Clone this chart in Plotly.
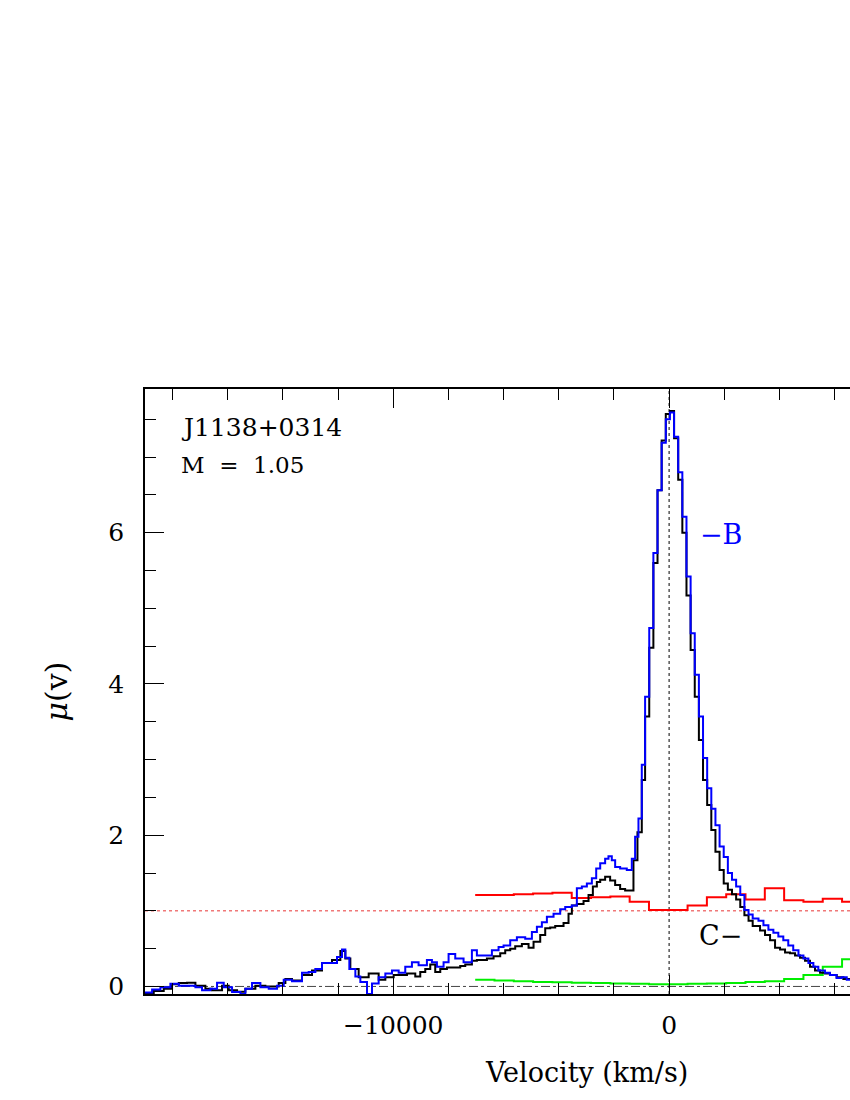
import plotly.graph_objects as go

# ---------------- data ----------------
black_edges = [-19000, -18683, -18321, -18019, -17777, -17475, -17173, -16811, -16569, -16207,
               -15965, -15663, -15361, -14999, -14636, -14153, -13911, -13670, -13308, -12945,
               -12583, -12220, -11918, -11737, -11556, -11254, -10891, -10529, -10287, -9985,
               -9504, -9202, -9021, -8840, -8659, -8478, -8296, -8055, -7572, -7390,
               -7149, -6968, -6605, -6364, -6122, -5941, -5760, -5579, -5337, -5095,
               -4914, -4672, -4491, -4310, -4129, -3827, -3646, -3525, -3344, -3102,
               -2921, -2764, -2619, -2498, -2319, -2138, -1956, -1775, -1594, -1292,
               -1147, -990, -870, -720, -570, -420, -270, -120, 30, 180,
               330, 480, 630, 780, 930, 1080, 1230, 1380, 1530, 1680,
               1830, 1980, 2130, 2280, 2430, 2580, 2730, 2880, 3030, 3297,
               3478, 3660, 3841, 4022, 4203, 4384, 4566, 4747, 4928, 5109,
               5290, 5472, 5653, 5834, 6076, 6317, 6600]
black_vals = [-0.09, -0.06, -0.03, 0.03, 0.045, 0.05, 0.01, -0.03, -0.05, 0.01,
              -0.05, -0.07, -0.03, 0.01, 0.0, 0.045, 0.10, 0.08, 0.15, 0.21,
              0.31, 0.35, 0.47, 0.37, 0.23, 0.12, 0.17, 0.09, 0.12, 0.15,
              0.17, 0.13, 0.19, 0.23, 0.29, 0.19, 0.23, 0.25, 0.27, 0.29,
              0.34, 0.35, 0.37, 0.40, 0.44, 0.48, 0.50, 0.53, 0.56, 0.51,
              0.59, 0.68, 0.77, 0.78, 0.80, 0.84, 0.96, 1.07, 1.09, 1.13,
              1.21, 1.32, 1.38, 1.41, 1.45, 1.40, 1.34, 1.29, 1.27, 1.67,
              2.04, 2.73, 3.57, 4.48, 5.60, 6.56, 7.22, 7.57, 7.61, 7.25,
              6.70, 6.00, 5.17, 4.45, 3.83, 3.26, 2.73, 2.40, 2.07, 1.78,
              1.54, 1.36, 1.28, 1.22, 1.15, 1.05, 0.94, 0.87, 0.80, 0.74,
              0.68, 0.61, 0.51, 0.49, 0.45, 0.44, 0.41, 0.38, 0.34, 0.26,
              0.21, 0.18, 0.17, 0.15, 0.12, 0.10]

blue_edges = [-19000, -18743, -18441, -18079, -17777, -17173, -16932, -16629, -16388, -16146,
              -15844, -15542, -15361, -15119, -14817, -14515, -14213, -13971, -13670, -13308,
              -13066, -12825, -12583, -12039, -11858, -11737, -11592, -11374, -11193, -10952,
              -10770, -10529, -10287, -10046, -9804, -9565, -9323, -9082, -8780, -8598,
              -8417, -8176, -7994, -7753, -7451, -7149, -6968, -6424, -6182, -6001,
              -5760, -5518, -5216, -4974, -4793, -4612, -4431, -4189, -3948, -3766,
              -3525, -3344, -3163, -2981, -2800, -2643, -2498, -2319, -2198, -2077,
              -1956, -1775, -1534, -1352, -1232, -1111, -990, -870, -720, -570,
              -420, -270, -120, 30, 180, 330, 480, 630, 780, 930,
              1080, 1230, 1380, 1530, 1680, 1830, 1980, 2130, 2280, 2430,
              2580, 2730, 2880, 3030, 3240, 3420, 3600, 3780, 3960, 4140,
              4320, 4500, 4690, 4870, 5050, 5230, 5410, 5650, 5830, 6070,
              6250, 6440, 6600]
blue_vals = [-0.08, -0.04, -0.01, 0.035, 0.01, -0.01, -0.05, -0.03, 0.05, -0.01,
             -0.075, -0.10, -0.03, 0.045, -0.01, -0.03, 0.01, 0.09, 0.07, 0.18,
             0.19, 0.23, 0.31, 0.39, 0.49, 0.38, 0.23, 0.13, 0.06, -0.10,
             0.04, 0.12, 0.17, 0.21, 0.18, 0.26, 0.32, 0.28, 0.35, 0.32,
             0.26, 0.32, 0.43, 0.37, 0.32, 0.48, 0.41, 0.48, 0.52, 0.54,
             0.61, 0.65, 0.63, 0.72, 0.79, 0.85, 0.92, 0.96, 1.02, 1.05,
             1.07, 1.30, 1.32, 1.36, 1.43, 1.56, 1.63, 1.69, 1.72, 1.67,
             1.58, 1.56, 1.54, 1.69, 1.98, 2.22, 2.93, 3.83, 4.74, 5.73,
             6.56, 7.19, 7.50, 7.59, 7.27, 6.80, 6.21, 5.42, 4.67, 4.12,
             3.57, 3.02, 2.62, 2.35, 2.13, 1.85, 1.71, 1.50, 1.41, 1.32,
             1.21, 1.01, 0.95, 0.90, 0.87, 0.81, 0.75, 0.71, 0.66, 0.61,
             0.54, 0.48, 0.41, 0.37, 0.31, 0.26, 0.21, 0.18, 0.15, 0.11,
             0.12, 0.09]

coarse_edges = [-7030, -6330, -5630, -4930, -4230, -3530, -2830, -2130, -1430, -730,
                -30, 670, 1370, 2070, 2770, 3470, 4170, 4870, 5570, 6270, 6970]
red_vals = [1.21, 1.21, 1.22, 1.23, 1.24, 1.17, 1.18, 1.19, 1.12, 1.01,
            1.01, 1.07, 1.18, 1.22, 1.15, 1.30, 1.14, 1.12, 1.16, 1.12]
green_vals = [0.09, 0.08, 0.07, 0.06, 0.055, 0.05, 0.045, 0.04, 0.035, 0.03,
              0.03, 0.035, 0.04, 0.045, 0.06, 0.07, 0.10, 0.15, 0.26, 0.36]

x_range = [-19000, 6558]
y_range = [-0.1, 7.9]
x_tick_vals = [-10000, 0]
y_tick_vals = [0, 2, 4, 6]

FONT = "DejaVu Serif"


def step(edges, vals):
    return list(edges), list(vals) + [vals[-1]]


fig = go.Figure()

# reference lines
fig.add_shape(type="line", xref="paper", x0=0, x1=1, yref="y", y0=1, y1=1,
              line=dict(color="#f07878", width=1.5, dash="dot"), layer="below")
fig.add_shape(type="line", xref="paper", x0=0, x1=1, yref="y", y0=0, y1=0,
              line=dict(color="#444444", width=1, dash="dashdot"), layer="below")
fig.add_shape(type="line", xref="x", x0=0, x1=0, yref="paper", y0=0, y1=1,
              line=dict(color="#000000", width=1, dash="dot"), layer="below")

for edges, vals, col in [(coarse_edges, green_vals, "#00ee00"),
                         (coarse_edges, red_vals, "#ff0000"),
                         (black_edges, black_vals, "#000000"),
                         (blue_edges, blue_vals, "#0000ff")]:
    xs, ys = step(edges, vals)
    fig.add_trace(go.Scatter(x=xs, y=ys, mode="lines", line_shape="hv",
                             line=dict(color=col, width=2), showlegend=False,
                             hoverinfo="skip"))

fig.update_xaxes(range=x_range, tickvals=x_tick_vals, ticktext=["\u221210000", "0"],
                 ticks="inside", ticklen=19, tickwidth=1.3, tickcolor="black",
                 minor=dict(dtick=2000, tick0=0, ticks="inside", ticklen=11,
                            tickwidth=1.3, tickcolor="black"),
                 showline=True, linecolor="black", linewidth=1.5, mirror="ticks",
                 showgrid=False, zeroline=False, ticklabelstandoff=8,
                 tickfont=dict(family=FONT, size=25, color="black"))
fig.update_yaxes(range=y_range, tickvals=y_tick_vals,
                 ticks="inside", ticklen=19, tickwidth=1.3, tickcolor="black",
                 minor=dict(dtick=0.5, tick0=0, ticks="inside", ticklen=11,
                            tickwidth=1.3, tickcolor="black"),
                 showline=True, linecolor="black", linewidth=1.5, mirror=False,
                 showgrid=False, zeroline=False, ticklabelstandoff=14,
                 tickfont=dict(family=FONT, size=25, color="black"))

fig.add_annotation(x=-17750, y=7.39, text="J1138+0314", showarrow=False,
                   xanchor="left", yanchor="middle", font=dict(family=FONT, size=25, color="black"))
fig.add_annotation(x=-17750, y=6.9, text="M\u00a0\u00a0=\u00a0\u00a01.05", showarrow=False,
                   xanchor="left", yanchor="middle", font=dict(family=FONT, size=23, color="black"))
fig.add_annotation(x=1050, y=5.97, text="\u2212B", showarrow=False,
                   xanchor="left", yanchor="middle", font=dict(family=FONT, size=27, color="#0000ff"))
fig.add_annotation(x=1000, y=0.68, text="C\u2212", showarrow=False,
                   xanchor="left", yanchor="middle", font=dict(family=FONT, size=27, color="black"))
# axis titles
fig.add_annotation(x=-3000, xref="x", y=-0.129, yref="paper", text="Velocity (km/s)",
                   showarrow=False, xanchor="center", yanchor="middle",
                   font=dict(family=FONT, size=27, color="black"))
fig.add_annotation(x=-0.125, xref="paper", y=0.5, yref="paper", text="<i>\u03bc</i>(v)",
                   showarrow=False, textangle=-90, xanchor="center", yanchor="middle",
                   font=dict(family=FONT, size=30, color="black"))

fig.update_layout(width=850, height=1100, margin=dict(l=145, r=0, t=389, b=106),
                  paper_bgcolor="white", plot_bgcolor="white")

# remove the page's default body margin and scrollbars so the figure fills the window
fig.write_html("out.html",
               config={"displayModeBar": False},
               post_script="document.body.style.margin='0';"
                           "document.body.style.overflow='hidden';"
                           "document.documentElement.style.overflow='hidden';")
